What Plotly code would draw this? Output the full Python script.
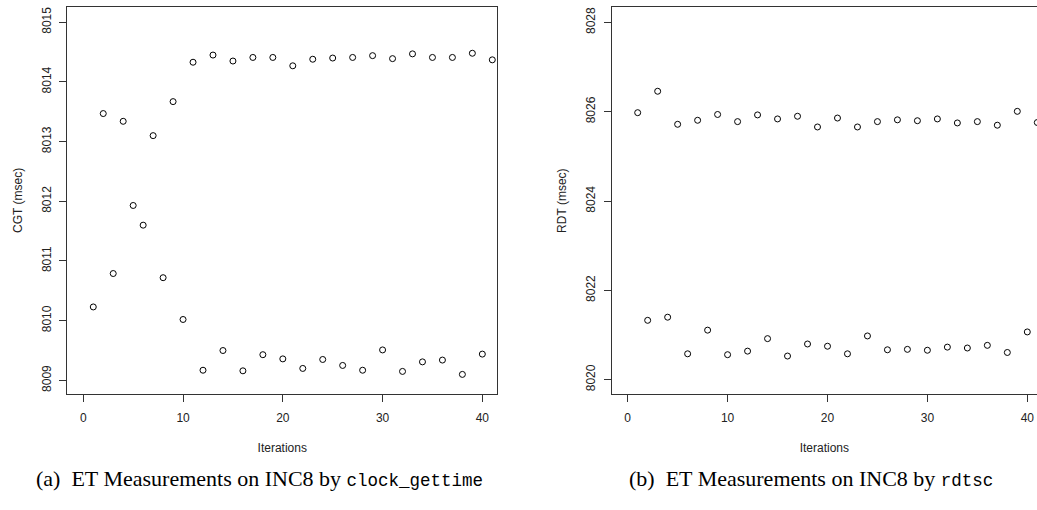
import plotly.graph_objects as go

W, H = 1037, 510

iterations = list(range(1, 42))

cgt_msec = [
    8010.23, 8013.47, 8010.79, 8013.34, 8011.93, 8011.60, 8013.10, 8010.72,
    8013.67, 8010.02, 8014.33, 8009.17, 8014.45, 8009.50, 8014.35, 8009.16,
    8014.41, 8009.43, 8014.41, 8009.36, 8014.27, 8009.20, 8014.38, 8009.35,
    8014.40, 8009.25, 8014.41, 8009.17, 8014.44, 8009.51, 8014.39, 8009.15,
    8014.47, 8009.31, 8014.41, 8009.34, 8014.41, 8009.10, 8014.48, 8009.44,
    8014.37,
]

rdt_msec = [
    8025.98, 8021.33, 8026.46, 8021.40, 8025.72, 8020.58, 8025.81, 8021.11,
    8025.94, 8020.56, 8025.78, 8020.64, 8025.93, 8020.92, 8025.84, 8020.53,
    8025.90, 8020.80, 8025.66, 8020.75, 8025.86, 8020.58, 8025.66, 8020.98,
    8025.78, 8020.67, 8025.82, 8020.68, 8025.80, 8020.66, 8025.84, 8020.73,
    8025.75, 8020.71, 8025.78, 8020.77, 8025.70, 8020.61, 8026.01, 8021.07,
    8025.76,
]

x_ticks = [0, 10, 20, 30, 40]
cgt_ticks = [8009, 8010, 8011, 8012, 8013, 8014, 8015]
rdt_ticks = [8020, 8022, 8024, 8026, 8028]

MONO = "<span style=\"font-family:'Liberation Mono';font-size:17.5px\">{}</span>"
captions = [
    "(a)&#160; ET Measurements on INC8 by " + MONO.format("clock_gettime"),
    "(b)&#160; ET Measurements on INC8 by " + MONO.format("rdtsc"),
]


def px(x):
    return x / W


def py(y):
    return 1 - y / H


AX_FONT = dict(family="Liberation Sans, Arial, sans-serif", size=12, color="#222")
CAP_FONT = dict(family="Liberation Serif, Times New Roman, serif", size=22, color="black")
LINE = "#333"

marker = dict(symbol="circle-open", size=6, color="black", line=dict(width=1, color="black"))

fig = go.Figure()
fig.add_trace(go.Scatter(x=iterations, y=cgt_msec, mode="markers", marker=marker,
                         xaxis="x", yaxis="y", showlegend=False))
fig.add_trace(go.Scatter(x=iterations, y=rdt_msec, mode="markers", marker=marker,
                         xaxis="x2", yaxis="y2", showlegend=False))

common_x = dict(showgrid=False, zeroline=False, showline=True, linecolor=LINE, linewidth=1,
                ticks="outside", ticklen=7, tickcolor=LINE, tickfont=AX_FONT,
                tickvals=x_ticks, ticklabelstandoff=6,
                title=dict(text="Iterations", font=AX_FONT, standoff=19))
common_y = dict(showgrid=False, zeroline=False, showline=True, linecolor=LINE, linewidth=1,
                ticks="outside", ticklen=7, tickcolor=LINE, tickfont=AX_FONT,
                tickangle=-90, ticklabelstandoff=4)

fig.update_layout(
    width=W, height=H,
    margin=dict(l=0, r=0, t=0, b=0),
    paper_bgcolor="white", plot_bgcolor="white",
    xaxis=dict(domain=[px(67.3), px(497.3)], range=[-1.604, 41.50], anchor="y",
               mirror=True, **common_x),
    yaxis=dict(domain=[py(393.5), py(7.3)], range=[8008.78, 8015.25], anchor="x",
               mirror=True, tickvals=cgt_ticks,
               title=dict(text="CGT (msec)", font=AX_FONT, standoff=14), **common_y),
    xaxis2=dict(domain=[px(611.7), 1.0], range=[-1.60, 40.97], anchor="y2",
                mirror=True, **common_x),
    yaxis2=dict(domain=[py(394), py(7.3)], range=[8019.68, 8028.34], anchor="x2",
                mirror=False, tickvals=rdt_ticks,
                title=dict(text="RDT (msec)", font=AX_FONT, standoff=14), **common_y),
    annotations=[
        dict(text=captions[0], x=px(259), y=py(478), xref="paper", yref="paper",
             xanchor="center", yanchor="middle", showarrow=False, font=CAP_FONT),
        dict(text=captions[1], x=px(811), y=py(478), xref="paper", yref="paper",
             xanchor="center", yanchor="middle", showarrow=False, font=CAP_FONT),
    ],
)

fig.write_html("out.html")
